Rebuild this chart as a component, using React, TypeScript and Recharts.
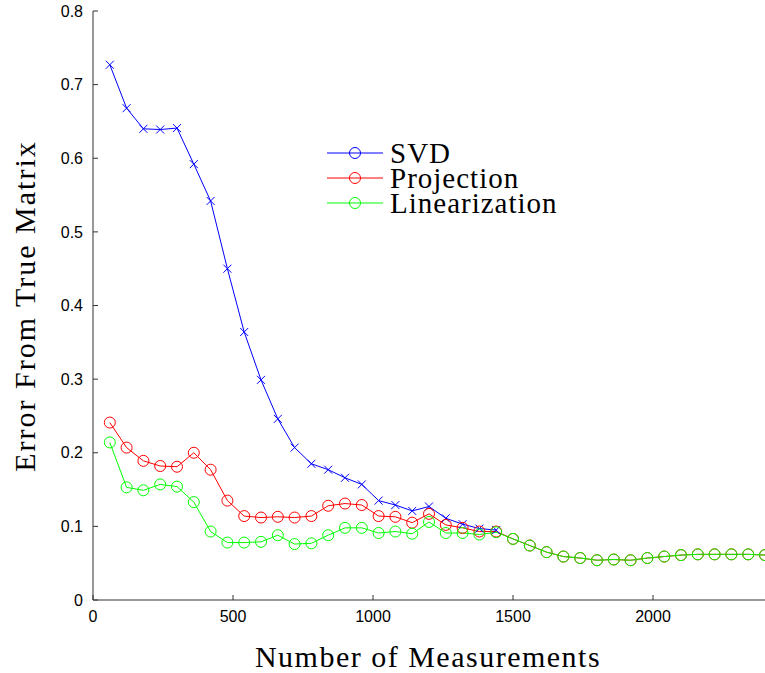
import { Line, LineChart, XAxis, YAxis } from "recharts";

const measurements = [
  60, 120, 180, 240, 300, 360, 420, 480, 540, 600, 660, 720, 780, 840, 900, 960, 1020, 1080, 1140, 1200,
  1260, 1320, 1380, 1440, 1500, 1560, 1620, 1680, 1740, 1800, 1860, 1920, 1980, 2040, 2100, 2160, 2220, 2280,
  2340, 2400,
];

const svd = [
  0.727, 0.668, 0.64, 0.639, 0.641, 0.592, 0.542, 0.45, 0.364, 0.299, 0.246, 0.207, 0.185, 0.177, 0.166, 0.157,
  0.135, 0.129, 0.121, 0.127, 0.111, 0.103, 0.097, 0.095,
];

const projection = [
  0.241, 0.207, 0.189, 0.182, 0.181, 0.2, 0.177, 0.135, 0.114, 0.112, 0.113, 0.112, 0.114, 0.128, 0.131, 0.129,
  0.114, 0.113, 0.105, 0.117, 0.102, 0.098, 0.093, 0.093, 0.083, 0.074, 0.065, 0.059, 0.057, 0.054, 0.055, 0.054,
  0.057, 0.059, 0.061, 0.062, 0.062, 0.062, 0.062, 0.061,
];

const linearization = [
  0.214, 0.153, 0.149, 0.157, 0.154, 0.133, 0.093, 0.078, 0.078, 0.079, 0.088, 0.076, 0.077, 0.088, 0.098, 0.098,
  0.091, 0.093, 0.09, 0.106, 0.091, 0.091, 0.089, 0.092, 0.083, 0.074, 0.065, 0.059, 0.057, 0.054, 0.055, 0.054,
  0.057, 0.059, 0.061, 0.062, 0.062, 0.062, 0.062, 0.061,
];

const xTicks = [0, 500, 1000, 1500, 2000];
const yTicks = [0, 0.1, 0.2, 0.3, 0.4, 0.5, 0.6, 0.7, 0.8];

const legendItems = [
  { name: "SVD", color: "#0000ff" },
  { name: "Projection", color: "#ff0000" },
  { name: "Linearization", color: "#00ff00" },
];

const rows = measurements.map((m, i) => ({
  m,
  svd: svd[i],
  projection: projection[i],
  linearization: linearization[i],
}));

const SERIF = '"Liberation Serif", "DejaVu Serif", serif';
const SANS = '"Liberation Sans", Arial, sans-serif';

function Cross(props: any) {
  const { cx, cy, index } = props;
  if (cx == null || cy == null) return <g key={index} />;
  const s = 4;
  return (
    <path
      key={index}
      d={`M${cx - s},${cy - s}L${cx + s},${cy + s}M${cx - s},${cy + s}L${cx + s},${cy - s}`}
      stroke="#0000ff"
      strokeWidth={1}
      fill="none"
    />
  );
}

function Legend() {
  return (
    <svg width={280} height={90} style={{ position: "absolute", left: 320, top: 130 }}>
      {legendItems.map((it, i) => {
        const cy = 23 + i * 25;
        return (
          <g key={it.name}>
            <line x1={7} x2={63} y1={cy} y2={cy} stroke={it.color} strokeWidth={1} />
            <circle cx={35} cy={cy} r={5.5} fill="none" stroke={it.color} strokeWidth={1} />
            <text x={70} y={cy + 10} fontFamily={SERIF} fontSize={29} letterSpacing={1} fill="#000">
              {it.name}
            </text>
          </g>
        );
      })}
    </svg>
  );
}

export default function App() {
  return (
    <div style={{ position: "absolute", left: 0, top: 0, width: 765, height: 673, background: "#fff" }}>
      <LineChart width={765} height={673} data={rows} margin={{ top: 11, right: 0, bottom: 0, left: 0 }}>
        <XAxis
          dataKey="m"
          type="number"
          domain={[0, 2400]}
          ticks={xTicks}
          height={73}
          tickSize={-5}
          tickMargin={16}
          stroke="#333"
          tick={{ fill: "#000", fontFamily: SANS, fontSize: 16 }}
          label={{
            content: () => (
              <text x={428} y={667} textAnchor="middle" fontFamily={SERIF} fontSize={30} letterSpacing={1.5} fill="#000">
                Number of Measurements
              </text>
            ),
          }}
        />
        <YAxis
          type="number"
          domain={[0, 0.8]}
          ticks={yTicks}
          width={93}
          tickSize={-5}
          tickMargin={15}
          stroke="#333"
          tick={{ fill: "#000", fontFamily: SANS, fontSize: 16 }}
          label={{
            content: () => (
              <text
                x={35}
                y={306}
                transform="rotate(-90 35 306)"
                textAnchor="middle"
                fontFamily={SERIF}
                fontSize={30}
                letterSpacing={2}
                fill="#000"
              >
                Error From True Matrix
              </text>
            ),
          }}
        />
        <Line
          dataKey="svd"
          stroke="#0000ff"
          strokeWidth={1}
          dot={Cross}
          activeDot={false}
          isAnimationActive={false}
        />
        <Line
          dataKey="projection"
          stroke="#ff0000"
          strokeWidth={1}
          dot={{ r: 5.5, fill: "none", stroke: "#ff0000", strokeWidth: 1 }}
          activeDot={false}
          isAnimationActive={false}
        />
        <Line
          dataKey="linearization"
          stroke="#00ff00"
          strokeWidth={1}
          dot={{ r: 5.5, fill: "none", stroke: "#00ff00", strokeWidth: 1 }}
          activeDot={false}
          isAnimationActive={false}
        />
      </LineChart>
      <Legend />
    </div>
  );
}
